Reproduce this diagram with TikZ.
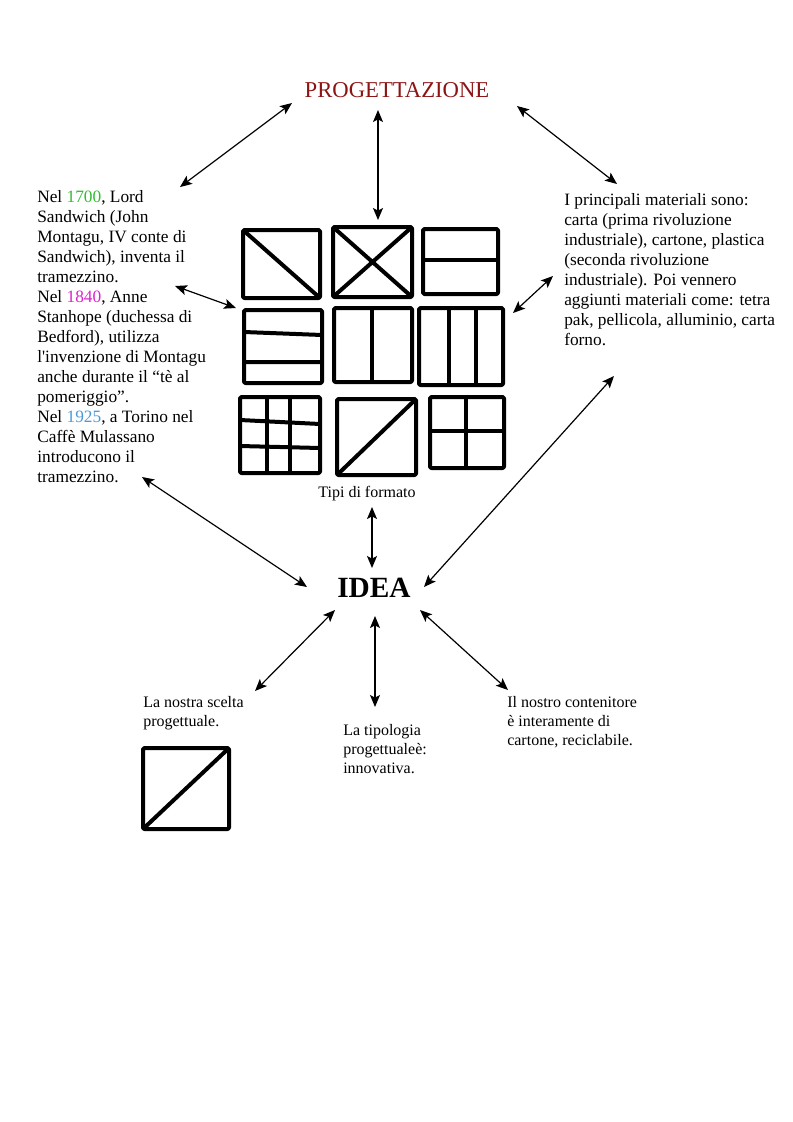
\documentclass[tikz,border=0pt]{standalone}
\usepackage{fontspec}
\setmainfont{Liberation Serif}[Ligatures=TeXOff]
\usetikzlibrary{arrows.meta}
\definecolor{titlered}{RGB}{140,20,20}
\definecolor{yeargreen}{RGB}{51,187,51}
\definecolor{yearmagenta}{RGB}{221,34,204}
\definecolor{yearblue}{RGB}{74,154,216}
\tikzset{
  link/.style={{Stealth[length=9pt,width=7.5pt,inset=2pt]}-{Stealth[length=9pt,width=7.5pt,inset=2pt]}, line width=0.9pt},
  formato/.style={line width=3pt, line join=round, rounded corners=1pt},
  testo/.style={anchor=base west, align=left, inner sep=0pt, font=\fontsize{13}{14.95}\selectfont},
  nota/.style={anchor=base west, align=left, inner sep=0pt, font=\fontsize{12}{14.25}\selectfont}
}
\begin{document}
\begin{tikzpicture}[x=0.75pt, y=-0.75pt]
    \useasboundingbox (0,0) rectangle (793,1122);

    % Titles
    \node[anchor=base, inner sep=0pt, text=titlered, font=\fontsize{17}{19}\selectfont] (prog) at (397,97) {PROGETTAZIONE};
    \node[anchor=base, inner sep=0pt, font=\fontsize{22}{24}\selectfont\bfseries] (idea) at (374,597) {IDEA};

    % Left text (anchored at its last line)
    \node[testo] (storia) at (37,482) {Nel \textcolor{yeargreen}{1700}, Lord\\
      Sandwich (John\\ Montagu, IV conte di\\ Sandwich), inventa il\\ tramezzino.\\
      Nel \textcolor{yearmagenta}{1840}, Anne\\ Stanhope (duchessa di\\ Bedford), utilizza\\
      l'invenzione di Montagu\\ anche durante il “tè al\\ pomeriggio”.\\
      Nel \textcolor{yearblue}{1925}, a Torino nel\\ Caffè Mulassano\\ introducono il\\ tramezzino.};

    % Right text
    \node[testo] (materiali) at (564,345) {I principali materiali sono:\\
      carta (prima rivoluzione\\ industriale), cartone, plastica\\ (seconda rivoluzione\\
      industriale). Poi vennero\\ aggiunti materiali come: tetra\\
      pak, pellicola, alluminio, carta\\ forno.};

    % Format types
    \draw[formato] (243,230) rectangle (320,298);
    \draw[formato] (243,230) -- (320,298);
    \draw[formato] (333,227) rectangle (412,297);
    \draw[formato] (333,227) -- (412,297) (333,297) -- (412,227);
    \draw[formato] (423,229) rectangle (498,294);
    \draw[formato] (423,260) -- (498,260);
    \draw[formato] (244,310) rectangle (322,383);
    \draw[formato] (244,332) -- (322,335) (244,362) -- (322,362);
    \draw[formato] (334,308) rectangle (412,382);
    \draw[formato] (372,308) -- (372,382);
    \draw[formato] (419,308) rectangle (503,385);
    \draw[formato] (449,308) -- (449,385) (476,308) -- (476,385);
    \draw[formato] (240,397) rectangle (320,473);
    \draw[formato] (267,397) -- (267,473) (290,397) -- (290,473);
    \draw[formato] (240,420) -- (320,424) (240,446) -- (320,448);
    \draw[formato] (337,399) rectangle (416,475);
    \draw[formato] (337,475) -- (416,399);
    \draw[formato] (430,397) rectangle (504,468);
    \draw[formato] (466,397) -- (466,468) (430,431) -- (504,431);
    \node[anchor=base, inner sep=0pt, font=\fontsize{12}{14}\selectfont] (tipi) at (367,497) {Tipi di formato};

    % Bottom notes
    \node[nota] (scelta) at (143,726) {La nostra scelta\\ progettuale.};
    \draw[formato] (143,748) rectangle (229,829);
    \draw[formato] (143,829) -- (229,748);
    \node[nota] (tipologia) at (343,773) {La tipologia\\ progettualeè:\\ innovativa.};
    \node[nota] (contenitore) at (507,745) {Il nostro contenitore\\ è interamente di\\ cartone, reciclabile.};

    % Arrow ends
    \coordinate (progL) at (292,103);
    \coordinate (storiaT) at (180,187);
    \coordinate (progS) at (378,110);
    \coordinate (gridT) at (378,220);
    \coordinate (progR) at (517,106);
    \coordinate (materialiT) at (617,184);
    \coordinate (storiaR) at (175,286);
    \coordinate (gridL) at (236,308);
    \coordinate (materialiL) at (553,276);
    \coordinate (gridR) at (513,313);
    \coordinate (storiaB) at (142,477);
    \coordinate (ideaL) at (307,587);
    \coordinate (tipiS) at (372,507);
    \coordinate (ideaN) at (372,568);
    \coordinate (materialiB) at (614,376);
    \coordinate (ideaR) at (424,587);
    \coordinate (ideaSW) at (335,610);
    \coordinate (sceltaN) at (255,691);
    \coordinate (ideaS) at (375,616);
    \coordinate (tipologiaN) at (375,707);
    \coordinate (ideaSE) at (420,610);
    \coordinate (contenitoreN) at (508,690);

    % Connectors
    \draw[link] (storiaT) -- (progL);
    \draw[link] (progS) -- (gridT);
    \draw[link] (progR) -- (materialiT);
    \draw[link] (storiaR) -- (gridL);
    \draw[link] (materialiL) -- (gridR);
    \draw[link] (storiaB) -- (ideaL);
    \draw[link] (tipiS) -- (ideaN);
    \draw[link] (materialiB) -- (ideaR);
    \draw[link] (ideaSW) -- (sceltaN);
    \draw[link] (ideaS) -- (tipologiaN);
    \draw[link] (ideaSE) -- (contenitoreN);
\end{tikzpicture}
\end{document}
